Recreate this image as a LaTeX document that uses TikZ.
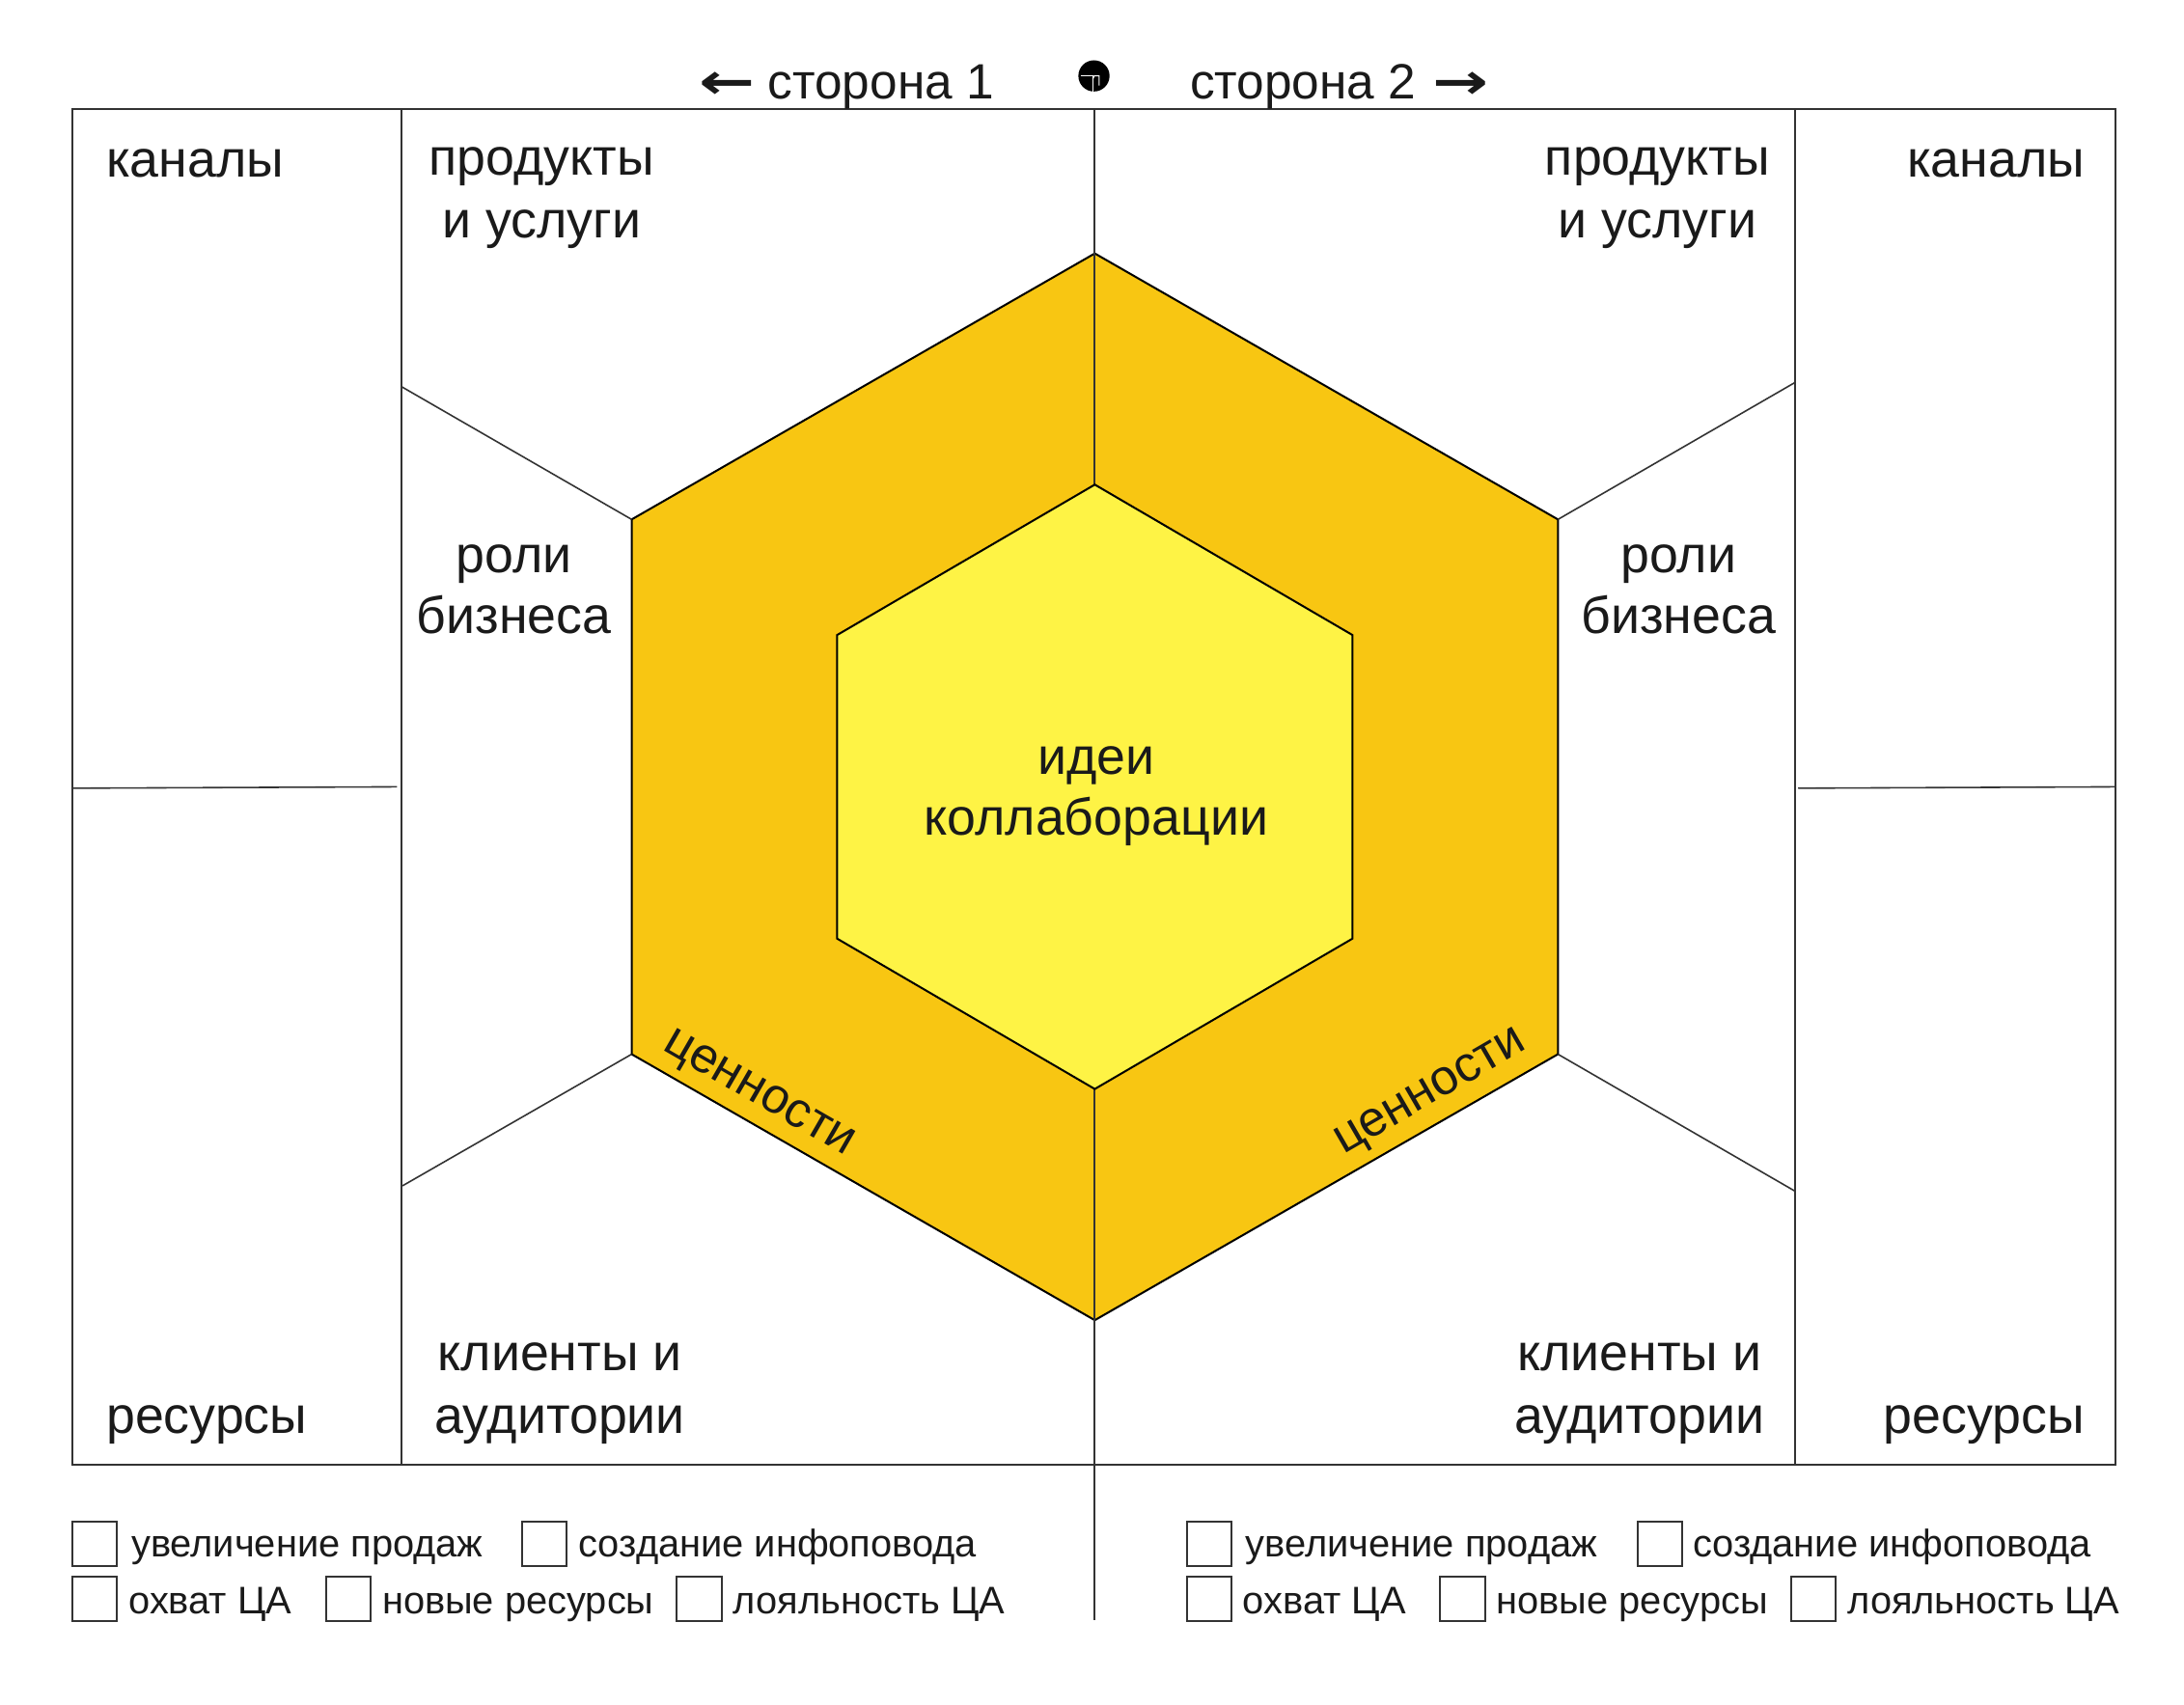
\documentclass[tikz,border=0pt]{standalone}
\usepackage{fontspec}
\setmainfont{Liberation Sans}
\newfontfamily\arrowfont{DejaVu Sans}
\definecolor{hexout}{HTML}{F8C612}
\definecolor{hexin}{HTML}{FEF345}
\definecolor{txt}{HTML}{1A1A1A}
\definecolor{rulec}{HTML}{333333}
\newcommand{\larr}{{\arrowfont\bfseries\scalebox{1.35}[1]{←}}}
\newcommand{\rarr}{{\arrowfont\bfseries\scalebox{1.35}[1]{→}}}
\begin{document}
\begin{tikzpicture}[x=0.5pt,y=-0.5pt,
  rule/.style={draw=rulec, line width=0.7pt},
  thinrule/.style={draw=rulec, line width=0.55pt},
  hexedge/.style={draw=black, line width=0.7pt, line join=miter},
  lbl/.style={font=\fontsize{18.6}{22.4}\selectfont, text=txt, inner sep=0pt},
  vallbl/.style={font=\fontsize{17.8}{21}\selectfont, text=txt, inner sep=0pt},
  hdr/.style={font=\fontsize{17.8}{21}\selectfont, text=txt, inner sep=0pt},
  cbtext/.style={font=\fontsize{13.8}{16}\selectfont, text=txt, inner sep=0pt, anchor=base west},
  cbox/.style={draw=rulec, line width=0.7pt, minimum size=16pt, inner sep=0pt}]
\useasboundingbox[fill=white] (0,0) rectangle (1568,1224);

% frame
\coordinate (fTL) at (52,78);
\coordinate (fBR) at (1519,1052);
\draw[rule] (fTL) rectangle (fBR);
\coordinate (vLt) at (288,78);   \coordinate (vLb) at (288,1052);
\coordinate (vRt) at (1289,78);  \coordinate (vRb) at (1289,1052);
\draw[rule] (vLt) -- (vLb);
\draw[rule] (vRt) -- (vRb);
\coordinate (sLa) at (52,566);   \coordinate (sLb) at (285,565);
\coordinate (sRa) at (1291,566); \coordinate (sRb) at (1519,565);
\draw[thinrule] (sLa) -- (sLb);
\draw[thinrule] (sRa) -- (sRb);

% outer hexagon
\coordinate (o1) at (786,182);
\coordinate (o2) at (1118.5,373);
\coordinate (o3) at (1118.5,757);
\coordinate (o4) at (786,948);
\coordinate (o5) at (453.5,757);
\coordinate (o6) at (453.5,373);
\filldraw[fill=hexout, hexedge] (o1) -- (o2) -- (o3) -- (o4) -- (o5) -- (o6) -- cycle;

% centre vertical line
\coordinate (cT) at (786,78);
\coordinate (cB) at (786,1163);
\draw[rule] (cT) -- (cB);

% diagonal lines
\coordinate (dLu) at (288,277.5);
\coordinate (dRu) at (1289,274.5);
\coordinate (dLd) at (289,851.5);
\coordinate (dRd) at (1289,855.5);
\draw[thinrule] (o6) -- (dLu);
\draw[thinrule] (o2) -- (dRu);
\draw[thinrule] (o5) -- (dLd);
\draw[thinrule] (o3) -- (dRd);

% inner hexagon
\coordinate (i1) at (786,348);
\coordinate (i2) at (971,456);
\coordinate (i3) at (971,674);
\coordinate (i4) at (786,782);
\coordinate (i5) at (601,674);
\coordinate (i6) at (601,456);
\filldraw[fill=hexin, hexedge] (i1) -- (i2) -- (i3) -- (i4) -- (i5) -- (i6) -- cycle;

% header
\node[hdr, anchor=base east] (side1) at (714,71) {\larr\hspace{4.5pt}сторона 1};
\node[hdr, anchor=base west] (side2) at (854,71) {сторона 2\hspace{6pt}\rarr};
\fill[black] (785.4,54.5) circle[radius=5.6pt];
\draw[white, line width=0.35pt] (775.8,54.5) -- (784.5,54.5) -- (784.5,65.5);
\draw[white, line width=0.35pt] (784.5,57) -- (785.6,54.5) -- (789.1,54.5) -- (789.1,61.5);

% left labels
\node[lbl, anchor=base west] (kan1) at (76,127) {каналы};
\node[lbl, anchor=base west] (res1) at (76,1029) {ресурсы};
\node[lbl, anchor=base] (prod1a) at (389,126) {продукты};
\node[lbl, anchor=base] (prod1b) at (389,171) {и услуги};
\node[lbl, anchor=base] (rol1a) at (369,411) {роли};
\node[lbl, anchor=base] (rol1b) at (369,455) {бизнеса};
\node[lbl, anchor=base] (kl1a) at (402,984) {клиенты и};
\node[lbl, anchor=base] (kl1b) at (402,1029) {аудитории};
% centre
\node[lbl, anchor=base] (idea1) at (787,556) {идеи};
\node[lbl, anchor=base] (idea2) at (787,600) {коллаборации};
% right labels
\node[lbl, anchor=base east] (kan2) at (1497,127) {каналы};
\node[lbl, anchor=base east] (res2) at (1497,1029) {ресурсы};
\node[lbl, anchor=base] (prod2a) at (1190,126) {продукты};
\node[lbl, anchor=base] (prod2b) at (1190,171) {и услуги};
\node[lbl, anchor=base] (rol2a) at (1205,411) {роли};
\node[lbl, anchor=base] (rol2b) at (1205,455) {бизнеса};
\node[lbl, anchor=base] (kl2a) at (1177,984) {клиенты и};
\node[lbl, anchor=base] (kl2b) at (1177,1029) {аудитории};

% values
\node[vallbl, rotate=-30, anchor=base] (val1) at (541,792) {ценности};
\node[vallbl, rotate=30, anchor=base] (val2) at (1031,791) {ценности};

% checkboxes left
\node[cbox] (bL1) at (68,1108.5) {};
\node[cbtext] (tL1) at (94,1118) {увеличение продаж};
\node[cbox] (bL2) at (391,1108.5) {};
\node[cbtext] (tL2) at (415,1118) {создание инфоповода};
\node[cbox] (bL3) at (68,1148) {};
\node[cbtext] (tL3) at (92,1158.5) {охват ЦА};
\node[cbox] (bL4) at (250,1148) {};
\node[cbtext] (tL4) at (274,1158.5) {новые ресурсы};
\node[cbox] (bL5) at (502,1148) {};
\node[cbtext] (tL5) at (526,1158.5) {лояльность ЦА};
% checkboxes right
\node[cbox] (bR1) at (868,1108.5) {};
\node[cbtext] (tR1) at (894,1118) {увеличение продаж};
\node[cbox] (bR2) at (1192,1108.5) {};
\node[cbtext] (tR2) at (1215,1118) {создание инфоповода};
\node[cbox] (bR3) at (868,1148) {};
\node[cbtext] (tR3) at (892,1158.5) {охват ЦА};
\node[cbox] (bR4) at (1050,1148) {};
\node[cbtext] (tR4) at (1074,1158.5) {новые ресурсы};
\node[cbox] (bR5) at (1302,1148) {};
\node[cbtext] (tR5) at (1326,1158.5) {лояльность ЦА};
\end{tikzpicture}
\end{document}
